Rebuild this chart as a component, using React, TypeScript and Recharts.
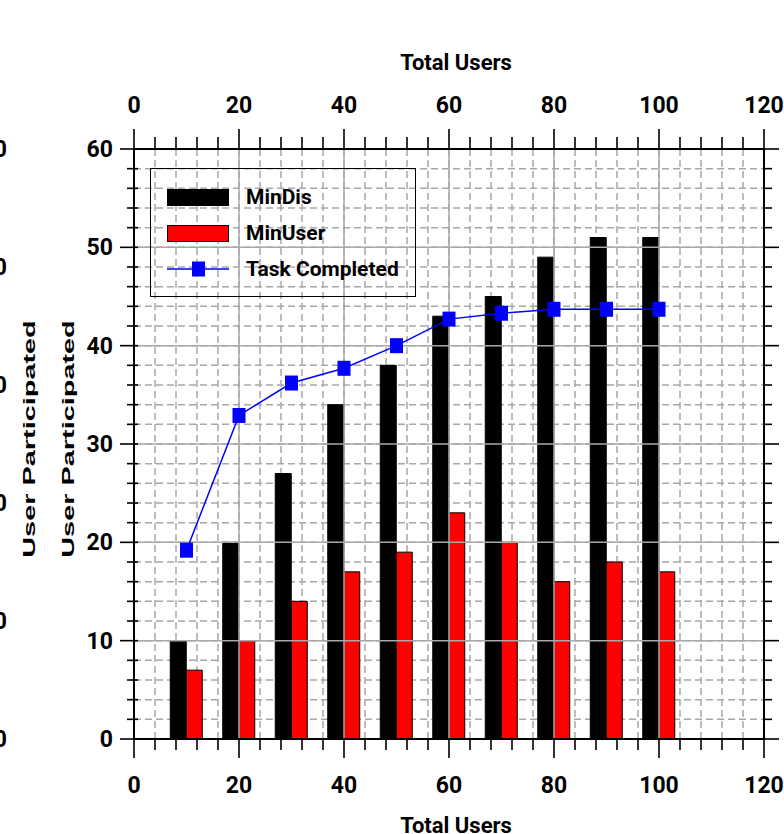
import React from 'react';
import { ComposedChart, Bar, Line, XAxis, YAxis, CartesianGrid, ReferenceLine, Legend } from 'recharts';

const users = [10, 20, 30, 40, 50, 60, 70, 80, 90, 100];
const minDis = [10, 20, 27, 34, 38, 43, 45, 49, 51, 51];
const minUser = [7, 10, 14, 17, 19, 23, 20, 16, 18, 17];
const taskCompleted = [19.2, 32.9, 36.2, 37.7, 40.0, 42.7, 43.3, 43.7, 43.7, 43.7];

const xTicks = [0, 4, 8, 12, 16, 20, 24, 28, 32, 36, 40, 44, 48, 52, 56, 60, 64, 68, 72, 76, 80, 84, 88, 92, 96, 100, 104, 108, 112, 116, 120];
const xMajor = [0, 20, 40, 60, 80, 100, 120];
const yTicks = [0, 2, 4, 6, 8, 10, 12, 14, 16, 18, 20, 22, 24, 26, 28, 30, 32, 34, 36, 38, 40, 42, 44, 46, 48, 50, 52, 54, 56, 58, 60];
const yMajor = [0, 10, 20, 30, 40, 50, 60];
const ghostTicks = [0, 10, 20, 30, 40, 50];

const data = users.map((u, i) => ({ users: u, minDis: minDis[i], minUser: minUser[i], task: taskCompleted[i] }));

const numFont = { fontFamily: 'Roboto, sans-serif', fontWeight: 700, fontSize: 23 };
const gridColor = '#a8a8a8';

const BottomTick = ({ x, y, payload }: any) => {
  const major = xMajor.includes(payload.value);
  return (
    <g>
      <line x1={x} x2={x} y1={y} y2={y + (major ? 19 : 11)} stroke="#000" strokeWidth={1.6} />
      {major && <text x={x} y={y + 54} textAnchor="middle" fill="#000" style={numFont}>{payload.value}</text>}
    </g>
  );
};

const TopTick = ({ x, y, payload }: any) => {
  const major = xMajor.includes(payload.value);
  return (
    <g>
      <line x1={x} x2={x} y1={y} y2={y - (major ? 20 : 12)} stroke="#000" strokeWidth={1.6} />
      {major && <text x={x} y={y - 36} textAnchor="middle" fill="#000" style={numFont}>{payload.value}</text>}
    </g>
  );
};

const LeftTick = ({ x, y, payload }: any) => {
  const major = yMajor.includes(payload.value);
  return (
    <g>
      <line x1={x - (major ? 14 : 7)} x2={x + 4} y1={y} y2={y} stroke="#000" strokeWidth={1.6} />
      {major && <text x={x - 21} y={y + 8} textAnchor="end" fill="#000" style={numFont}>{payload.value}</text>}
    </g>
  );
};

const RightTick = ({ x, y, payload }: any) => {
  const major = yMajor.includes(payload.value);
  return <line x1={x} x2={x + (major ? 15 : 8)} y1={y} y2={y} stroke="#000" strokeWidth={1.6} />;
};

const GhostTick = ({ x, y, payload }: any) => (
  <text x={x - 37} y={y + 8} textAnchor="end" fill="#000" style={numFont}>{payload.value}</text>
);

const vLabel = (offsetX: number) => (props: any) => {
  const vb = props.viewBox || { x: 0, y: 0, width: 0, height: 0 };
  const cx = vb.x + offsetX;
  const cy = vb.y + vb.height / 2 - 5;
  return (
    <text
      transform={`translate(${cx},${cy}) rotate(-90) scale(1.7,1)`}
      textAnchor="middle"
      dominantBaseline="central"
      fill="#000"
      style={{ fontFamily: '"Liberation Sans", Arial, sans-serif', fontWeight: 700, fontSize: 17 }}
    >
      User Participated
    </text>
  );
};

const hLabel = (baseline: number) => (props: any) => {
  const vb = props.viewBox || { x: 0, y: 0, width: 0, height: 0 };
  return (
    <text x={vb.x + vb.width / 2 + 7} y={vb.y + baseline} textAnchor="middle" fill="#000"
      style={{ fontFamily: 'Roboto, sans-serif', fontWeight: 700, fontSize: 22 }}>
      Total Users
    </text>
  );
};

const SquareDot = (props: any) => {
  const { cx, cy, index } = props;
  return <rect key={`sq-${index}`} x={cx - 6.5} y={cy - 7.5} width={13} height={15} fill="#0000ff" />;
};

const LegendBox = ({ payload }: any) => (
  <div style={{ position: 'relative', width: 266, height: 129, border: '1.5px solid #000', boxSizing: 'border-box' }}>
    {(payload || []).map((entry: any, i: number) => {
      const cy = 28 + i * 36;
      return (
        <div key={entry.value}>
          {entry.type === 'line' ? (
            <svg style={{ position: 'absolute', left: 16, top: cy - 9 }} width={62} height={18}>
              <line x1={0} x2={62} y1={9} y2={9} stroke={entry.color} strokeWidth={1.5} />
              <rect x={25} y={1.5} width={13} height={15} fill={entry.color} />
            </svg>
          ) : (
            <div style={{ position: 'absolute', left: 16, top: cy - 8, width: 62, height: 17, background: entry.color, border: '1px solid #000', boxSizing: 'border-box' }} />
          )}
          <span style={{ position: 'absolute', left: 95, top: cy - 14, lineHeight: '28px', fontFamily: 'Roboto, sans-serif', fontWeight: 700, fontSize: 21, color: '#000', whiteSpace: 'nowrap' }}>
            {entry.value}
          </span>
        </div>
      );
    })}
  </div>
);

export default function App() {
  return (
    <div style={{ position: 'absolute', left: 0, top: 0, width: 784, height: 834, overflow: 'hidden', background: '#fff' }}>
      <div style={{ position: 'relative', left: -40 }}>
        <ComposedChart width={844} height={860} data={data} margin={{ top: 0, right: 0, bottom: 0, left: 0 }} barGap={0}>
          <CartesianGrid stroke={gridColor} strokeWidth={1.5} strokeDasharray="7 4" />
          {xMajor.slice(1, -1).map((v) => (
            <ReferenceLine key={`vx${v}`} x={v} stroke={gridColor} strokeWidth={1.5} />
          ))}
          {yMajor.slice(1, -1).map((v) => (
            <ReferenceLine key={`hy${v}`} y={v} stroke={gridColor} strokeWidth={1.5} />
          ))}
          <XAxis dataKey="users" type="number" domain={[0, 120]} ticks={xTicks} interval={0} height={121}
            tickSize={0} tickMargin={0} tickLine={false} tick={<BottomTick />}
            axisLine={{ stroke: '#000', strokeWidth: 2 }} label={{ content: hLabel(94) }} />
          <XAxis xAxisId="top" orientation="top" dataKey="users" type="number" domain={[0, 120]} ticks={xTicks} interval={0} height={149}
            allowDataOverflow tickSize={0} tickMargin={0} tickLine={false} tick={<TopTick />}
            axisLine={{ stroke: '#000', strokeWidth: 2 }} label={{ content: hLabel(70) }} />
          <YAxis type="number" domain={[0, 60]} ticks={yTicks} interval={0} width={90}
            tickSize={0} tickMargin={0} tickLine={false} tick={<LeftTick />}
            axisLine={{ stroke: '#000', strokeWidth: 2 }} label={{ content: vLabel(24) }} />
          <YAxis yAxisId="ghost" type="number" domain={[0, 50]} allowDataOverflow ticks={ghostTicks} interval={0} width={84}
            tickSize={0} tickMargin={0} tickLine={false} tick={<GhostTick />}
            axisLine={false} label={{ content: vLabel(69) }} />
          <YAxis yAxisId="right" orientation="right" type="number" domain={[0, 60]} allowDataOverflow ticks={yTicks} interval={0} width={40}
            tickSize={0} tickMargin={0} tickLine={false} tick={<RightTick />}
            axisLine={{ stroke: '#000', strokeWidth: 2 }} />
          <Bar dataKey="minDis" name="MinDis" fill="#000000" stroke="#000" strokeWidth={1} barSize={16} isAnimationActive={false} />
          <Bar dataKey="minUser" name="MinUser" fill="#ff0000" stroke="#000" strokeWidth={1} barSize={16} isAnimationActive={false} />
          <Line type="linear" dataKey="task" name="Task Completed" stroke="#0000ff" strokeWidth={1.5}
            dot={<SquareDot />} activeDot={false} isAnimationActive={false} />
          <Legend layout="vertical" align="center" verticalAlign="middle" content={<LegendBox />}
            wrapperStyle={{ left: 190, top: 168, width: 266, height: 129 }} />
        </ComposedChart>
      </div>
    </div>
  );
}
